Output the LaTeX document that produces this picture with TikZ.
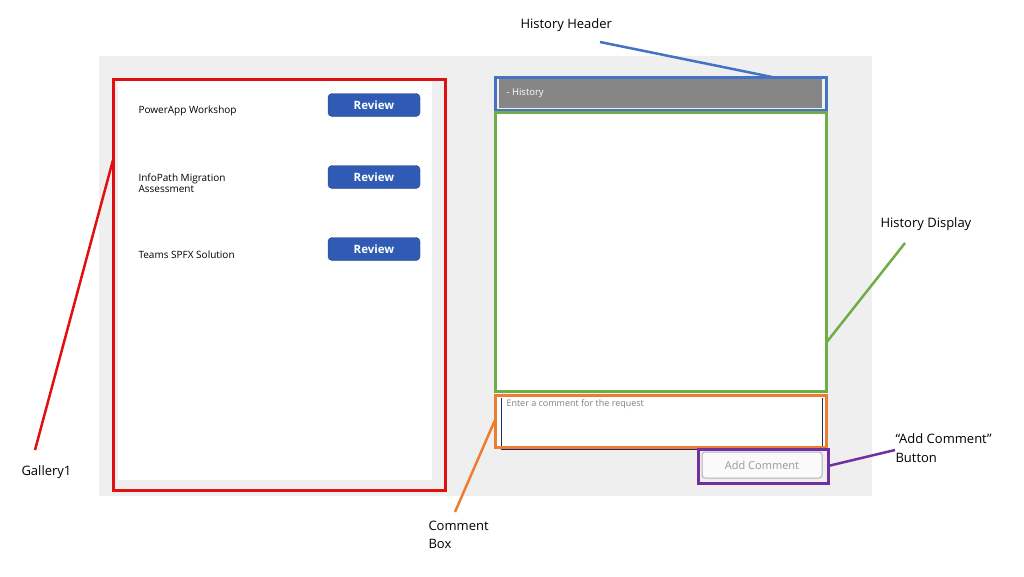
\documentclass[tikz,border=0pt]{standalone}
\usepackage{fontspec}
\setmainfont{Open Sans}
\definecolor{panelgray}{HTML}{EFEFEF}
\definecolor{redframe}{HTML}{E01010}
\definecolor{blueframe}{HTML}{4472C4}
\definecolor{greenframe}{HTML}{70AD47}
\definecolor{orangeframe}{HTML}{ED7D31}
\definecolor{purpleframe}{HTML}{7030A0}
\definecolor{btnblue}{HTML}{2F5BB5}
\definecolor{navyline}{HTML}{1F2A6B}
\begin{document}
\begin{tikzpicture}[x=1pt, y=-1pt,
    frame/.style = {line width=3pt},
    callout/.style = {font=\fontsize{13}{18.5}\selectfont, align=left, anchor=west},
    item/.style = {font=\fontsize{10}{11.5}\selectfont, align=left, anchor=west},
    review/.style = {fill=btnblue, draw=btnblue!70!black, rounded corners=4pt,
        minimum width=92pt, minimum height=23pt, inner sep=0pt, text=white,
        font=\bfseries\fontsize{11.5}{12}\selectfont}]
    \useasboundingbox (0,0) rectangle (1024,576);
    \fill [white] (0,0) rectangle (1024,576);
    \fill [panelgray] (99,56) rectangle (872,496);
    % gallery
    \fill [white] (118,80) rectangle (432,480);
    \draw [frame, redframe] (113,79) rectangle (445,490);
    \coordinate (galEdge) at (113,160);
    \node [item] (item1) at (135,111) {PowerApp Workshop};
    \node [item] (item2) at (135,183) {InfoPath Migration\\Assessment};
    \node [item] (item3) at (135,255) {Teams SPFX Solution};
    \foreach \y [count=\i] in {105,177,249}
        \node [review] (review\i) at (374,\y) {Review};
    % history
    \fill [gray!95] (499,79) rectangle (822,108);
    \node [anchor=west, text=white, font=\fontsize{9.5}{10}\selectfont] (histText) at (503,93) {- History};
    \draw [frame, blueframe] (495,77) rectangle (826,110);
    \coordinate (headEdge) at (772,77);
    \fill [white] (495,112) rectangle (826,391);
    \draw [frame, greenframe] (495,112) rectangle (826,391);
    \coordinate (dispEdge) at (826,343);
    % comment box
    \fill [white] (495,395) rectangle (826,447);
    \draw [navyline, line width=1pt] (501,398) -- (501,449) -- (822,449) -- (822,398);
    \node [anchor=west, text=gray, font=\fontsize{9}{10}\selectfont] (hint) at (503,404) {Enter a comment for the request};
    \draw [frame, orangeframe] (495,395) rectangle (826,447);
    \coordinate (boxEdge) at (495,420);
    % add comment button
    \node [fill=gray!4, draw=gray!60, line width=1pt, rounded corners=3pt, minimum width=120pt, minimum height=26pt,
        inner sep=0pt, text=gray!80, font=\fontsize{11}{12}\selectfont] (addBtn) at (762,465) {Add Comment};
    \draw [frame, purpleframe] (698,449) rectangle (828,483);
    \coordinate (btnEdge) at (828,466);
    % callouts
    \node [callout] (lblHeader) at (517,25) {History Header};
    \node [callout] (lblDisplay) at (877,224) {History Display};
    \node [callout] (lblGallery) at (18,472) {Gallery1};
    \node [callout] (lblBox) at (425,535) {Comment\\Box};
    \node [callout] (lblButton) at (892,448) {“Add Comment”\\Button};
    \draw [frame, blueframe, line width=2.5pt] (600,42) -- (headEdge);
    \draw [frame, greenframe, line width=2.5pt] (905,243) -- (dispEdge);
    \draw [frame, redframe, line width=2.5pt] (35,450) -- (galEdge);
    \draw [frame, orangeframe, line width=2.5pt] (455,512) -- (boxEdge);
    \draw [frame, purpleframe, line width=2.5pt] (895,450) -- (btnEdge);
\end{tikzpicture}
\end{document}
